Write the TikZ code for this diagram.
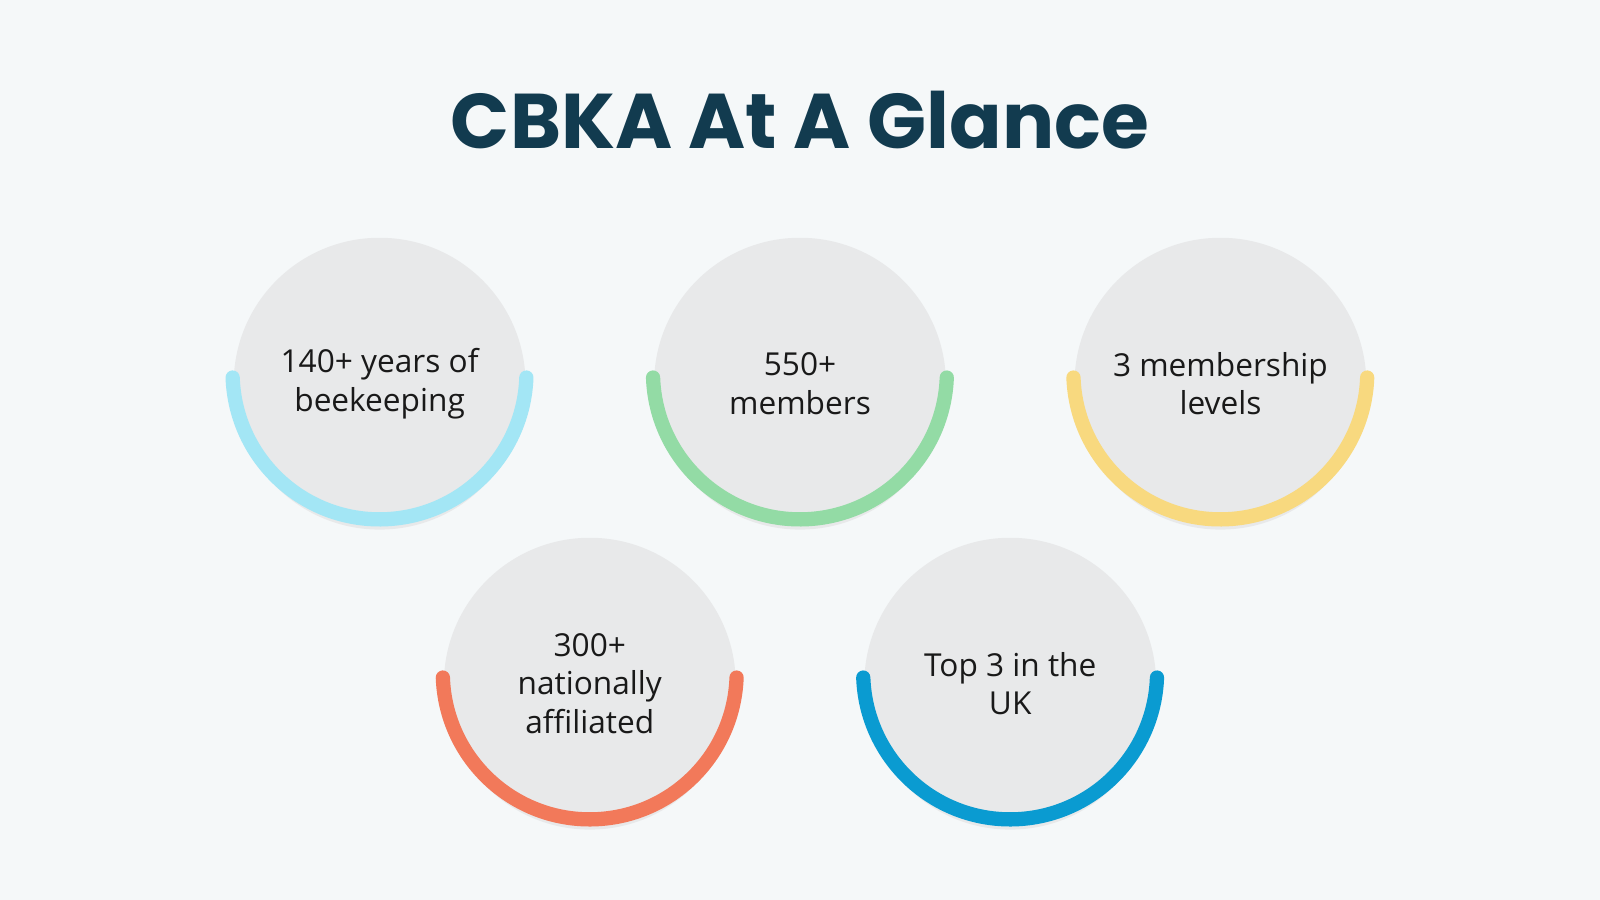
\documentclass[tikz,border=0pt]{standalone}
\usepackage{fontspec}
\setmainfont{Open Sans}
\newfontfamily\titlefont{Poppins}
\definecolor{bg}{HTML}{F5F8F9}
\definecolor{disc}{HTML}{E8E9EA}
\definecolor{ttl}{HTML}{123B4F}
\definecolor{cA}{HTML}{A3E6F5}
\definecolor{cB}{HTML}{93DBA5}
\definecolor{cC}{HTML}{F8D97F}
\definecolor{cD}{HTML}{F2795A}
\definecolor{cE}{HTML}{0A9BD1}
\begin{document}
\begin{tikzpicture}[x=0.5pt,y=-0.5pt,
  discbox/.style={circle,fill=disc,minimum size=286*0.5pt,inner sep=0pt,align=center,font=\fontsize{15.5}{19}\selectfont,text=black!90},
  arcline/.style={line width=7pt,line cap=round}]
\useasboundingbox[fill=bg] (0,0) rectangle (1568,882);
\node[font=\titlefont\bfseries\fontsize{38}{44}\selectfont,text=ttl] (title) at (784,118) {CBKA At A Glance};
\foreach \n/\x/\y/\c/\t in {a/372/376/cA/{140+ years of\\beekeeping},b/784/376/cB/{550+\\members},c/1196/376/cC/{3 membership\\levels},d/578/670/cD/{300+\\nationally\\affiliated},e/990/670/cE/{Top 3 in the\\UK}}{
  \node[discbox] (\n) at (\x,\y) {\t};
  \draw[arcline,draw=\c] (\x,\y) ++(-144,-6) arc[start angle=182,end angle=358,x radius=144,y radius=-144];
}
\end{tikzpicture}
\end{document}
